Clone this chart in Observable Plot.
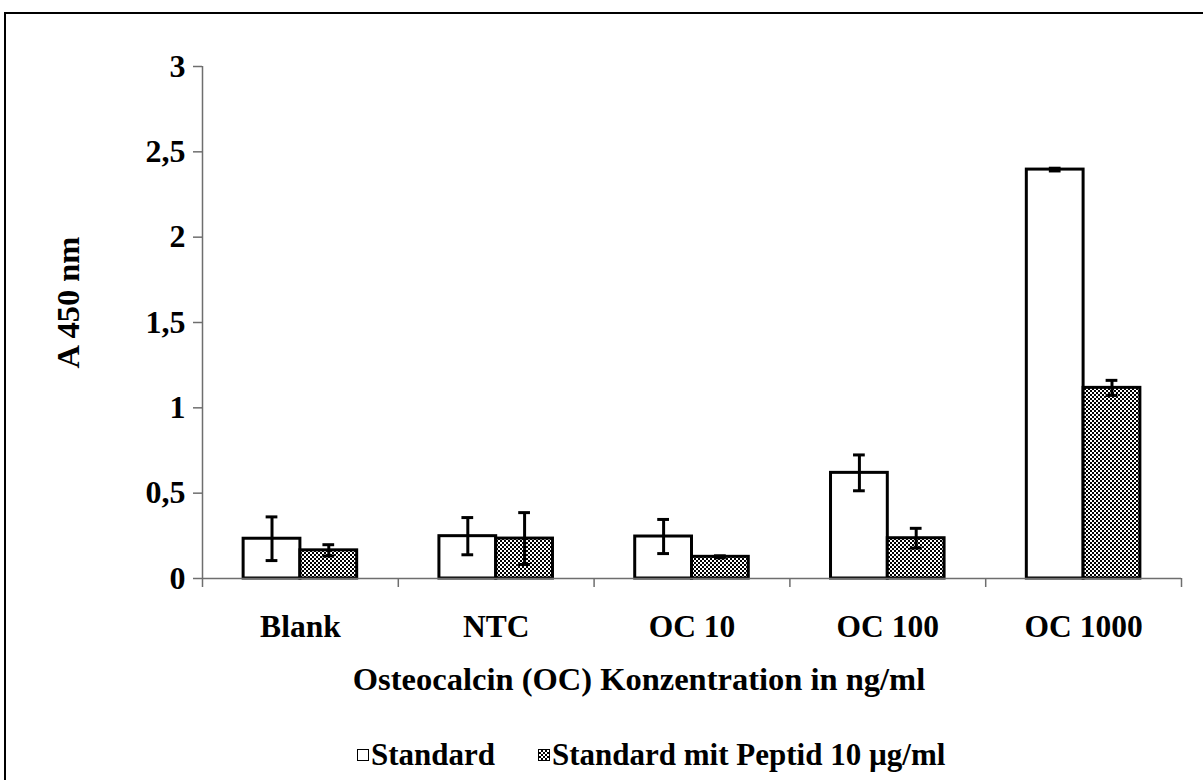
<!DOCTYPE html>
<html>
<head>
<meta charset="utf-8">
<script src="https://cdn.jsdelivr.net/npm/d3@7"></script>
<script src="https://cdn.jsdelivr.net/npm/@observablehq/plot@0.6"></script>
<style>
html, body { margin: 0; padding: 0; background: #fff; width: 1203px; height: 780px; overflow: hidden; }
#wrap { position: relative; width: 1203px; height: 780px; }
#frame { position: absolute; left: 4px; top: 12px; width: 1300px; height: 900px; border: 2px solid #000; box-sizing: border-box; pointer-events: none; }
#chart svg { display: block; }
#legend { position: relative; height: 50px; font: bold 31px "Liberation Serif", "Times New Roman", serif; color: #000; }
.item { position: absolute; top: 0; height: 50px; display: flex; align-items: center; white-space: nowrap; }
.box { width: 12px; height: 12px; border: 1.5px solid #000; box-sizing: border-box; margin-right: 2px; background: #fff; }
.box.checker { background: repeating-conic-gradient(#000 0 25%, #fff 0 50%) 0 0 / 4px 4px; }
</style>
</head>
<body>
<div id="wrap">
  <div id="chart"></div>
  <div id="legend"></div>
  <div id="frame"></div>
</div>
<script>
// ---- data ----
const categories = ["Blank", "NTC", "OC 10", "OC 100", "OC 1000"];
const seriesNames = ["Standard", "Standard mit Peptid 10 µg/ml"];
const standardValues = [0.233, 0.248, 0.246, 0.619, 2.396];
const standardErrors = [0.128, 0.109, 0.100, 0.105, 0.008];
const peptideValues = [0.165, 0.234, 0.127, 0.236, 1.117];
const peptideErrors = [0.033, 0.152, 0.006, 0.058, 0.044];
const yTicks = [0, 0.5, 1, 1.5, 2, 2.5, 3];
const xTitle = "Osteocalcin (OC) Konzentration in ng/ml";
const yTitle = "A 450 nm";

// ---- layout within each category slot (linear x: category i spans [i, i+1]) ----
const groupStart = 0.21, barSpan = 0.29, capHalf = 0.03;
const rows = [];
categories.forEach((cat, i) => {
  [[standardValues, standardErrors], [peptideValues, peptideErrors]].forEach(([vals, errs], s) => {
    const x1 = i + groupStart + s * barSpan;
    const x2 = x1 + barSpan;
    rows.push({cat, i, series: s, value: vals[i], err: errs[i], x1, x2, cx: (x1 + x2) / 2});
  });
});
const stdRows = rows.filter(d => d.series === 0);
const pepRows = rows.filter(d => d.series === 1);

const font = '"Liberation Serif", "Times New Roman", serif';
const axisColor = "#6e6e6e";

const chart = Plot.plot({
  width: 1203,
  height: 730,
  marginLeft: 202,
  marginRight: 22,
  marginTop: 66,
  marginBottom: 152,
  x: {domain: [0, categories.length], axis: null},
  y: {domain: [0, 3], axis: null},
  style: {fontFamily: font, fontWeight: "bold", fontSize: "32px", color: "#000", background: "transparent"},
  marks: [
    // axis lines
    Plot.ruleX([0], {y1: 0, y2: 3, stroke: axisColor, strokeWidth: 1.5}),
    Plot.axisY({ticks: yTicks, tickSize: 9, tickPadding: 8, stroke: axisColor, strokeWidth: 1.5,
      tickFormat: d => String(d).replace(".", ","), label: null, fontSize: 32, fontWeight: "bold", fill: "#000"}),
    Plot.axisX({ticks: d3.range(categories.length + 1), tickSize: 9, stroke: axisColor, strokeWidth: 1.5,
      tickFormat: () => "", label: null}),
    Plot.axisX({ticks: categories.map((c, i) => i + 0.5), tickSize: 0, tickPadding: 36,
      tickFormat: d => categories[Math.floor(d)], label: null, fontSize: 31.5, fontWeight: "bold", fill: "#000"}),
    // bars
    Plot.rect(stdRows, {x1: "x1", x2: "x2", y1: 0, y2: "value", fill: "#fff", stroke: "#000", strokeWidth: 3}),
    Plot.rect(pepRows, {x1: "x1", x2: "x2", y1: 0, y2: "value", fill: "url(#checker)", stroke: "#000", strokeWidth: 3}),
    Plot.ruleY([0], {x1: 0, x2: categories.length, stroke: axisColor, strokeWidth: 1.5}),
    // error bars
    Plot.ruleX(rows, {x: "cx", y1: d => d.value - d.err, y2: d => d.value + d.err, stroke: "#000", strokeWidth: 3}),
    Plot.ruleY(rows, {y: d => d.value + d.err, x1: d => d.cx - capHalf, x2: d => d.cx + capHalf, stroke: "#000", strokeWidth: 3}),
    Plot.ruleY(rows, {y: d => d.value - d.err, x1: d => d.cx - capHalf, x2: d => d.cx + capHalf, stroke: "#000", strokeWidth: 3}),
    // titles
    Plot.text([xTitle], {frameAnchor: "bottom", textAnchor: "middle", lineAnchor: "middle", dx: -53, dy: 101,
      text: d => d, fontSize: 32.5, fontWeight: "bold", fill: "#000"}),
    Plot.text([yTitle], {frameAnchor: "left", textAnchor: "middle", lineAnchor: "middle", rotate: -90, dx: -134, dy: -20,
      text: d => d, fontSize: 32.5, fontWeight: "bold", fill: "#000"})
  ]
});

// checker pattern definition
const defs = d3.select(chart).insert("defs", ":first-child");
const pat = defs.append("pattern").attr("id", "checker").attr("patternUnits", "userSpaceOnUse")
  .attr("width", 4).attr("height", 4);
pat.append("rect").attr("width", 4).attr("height", 4).attr("fill", "#fff");
pat.append("rect").attr("x", 0).attr("y", 0).attr("width", 2).attr("height", 2).attr("fill", "#000");
pat.append("rect").attr("x", 2).attr("y", 2).attr("width", 2).attr("height", 2).attr("fill", "#000");

document.getElementById("chart").appendChild(chart);

// legend
const legendLeft = [357, 538];
const legend = d3.select("#legend");
seriesNames.forEach((name, s) => {
  const item = legend.append("div").attr("class", "item").style("left", legendLeft[s] + "px");
  item.append("div").attr("class", "box" + (s === 1 ? " checker" : ""));
  item.append("span").text(name);
});
</script>
</body>
</html>
